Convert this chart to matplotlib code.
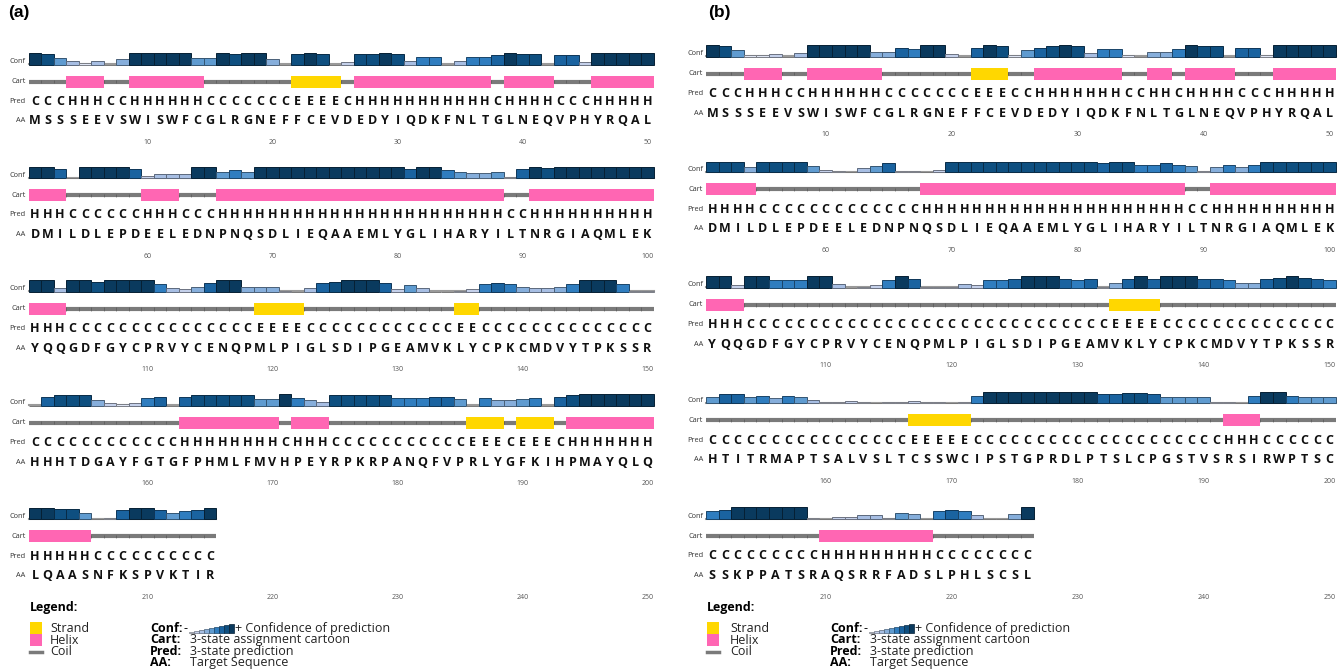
import matplotlib
matplotlib.use('Agg')
import matplotlib.pyplot as plt
from matplotlib.patches import Rectangle
import numpy as np

# ---- data: (a) ----
aa_a = ["MSSSEEVSWISWFCGLRGNEFFCEVDEDYIQDKFNLTGLNEQVPHYRQAL",
        "DMILDLEPDEELEDNPNQSDLIEQAAEMLYGLIHARYILTNRGIAQMLEK",
        "YQQGDFGYCPRVYCENQPMLPIGLSDIPGEAMVKLYCPKCMDVYTPKSSR",
        "HHHTDGAYFGTGFPHMLFMVHPEYRPKRPANQFVPRLYGFKIHPMAYQLQ",
        "LQAASNFKSPVKTIR"]
pred_a = ["CCCHHHCCHH" "HHHHCCCCCC" "CEEEECHHHH" "HHHHHHHCHH" "HHCCCHHHHH",
          "HHHCCCCCCH" "HHCCCHHHHH" "HHHHHHHHHH" "HHHHHHHHCC" "HHHHHHHHHH",
          "HHHCCCCCCC" "CCCCCCCCEE" "EECCCCCCCC" "CCCCEECCCC" "CCCCCCCCCC",
          "CCCCCCCCCC" "CCHHHHHHHH" "CHHHCCCCCC" "CCCCCEEECE" "EECHHHHHHH",
          "HHHHHCCCCCCCCCC"]
conf_a = [[9,8,5,3,1,3,0,4,9,9, 9,9,9,5,5,9,8,9,9,4, 0,8,9,8,0,2,8,8,9,8,
           3,6,6,0,3,6,6,7,9,8, 8,0,7,7,2,9,9,9,9,9],
          [9,9,7,0,9,9,9,9,7,2, 3,3,3,9,9,5,6,5,9,9, 9,9,9,9,9,9,9,9,9,9,
           7,9,9,6,5,4,4,5,1,7, 9,8,9,9,9,9,9,9,9,9],
          [9,9,3,9,9,8,9,9,9,9, 6,3,2,4,7,9,9,4,4,4, 1,0,3,7,8,9,9,9,7,2,
           5,3,0,0,1,2,6,7,6,4, 3,3,4,6,9,9,9,6,1,1],
          [0,7,8,8,8,4,2,1,2,6, 7,0,7,8,8,8,8,8,5,5, 9,6,4,3,8,8,8,8,8,6,
           6,6,7,7,5,0,6,4,4,5, 6,0,7,8,9,9,9,9,9,9],
          [9,9,8,8,5,0,1,7,9,9,7,5,6,7,9]]

# ---- data: (b) ----
aa_b = ["MSSSEEVSWISWFCGLRGNEFFCEVDEDYIQDKFNLTGLNEQVPHYRQAL",
        "DMILDLEPDEELEDNPNQSDLIEQAAEMLYGLIHARYILTNRGIAQMLEK",
        "YQQGDFGYCPRVYCENQPMLPIGLSDIPGEAMVKLYCPKCMDVYTPKSSR",
        "HTITRMAPTSALVSLTCSSWCIPSTGPRDLPTSLCPGSTVSRSIRWPTSC",
        "SSKPPATSRAQSRRFADSLPHLSCSL"]
pred_b = ["CCCHHHCCHH" "HHHHCCCCCC" "CEEECCHHHH" "HHHCCHHCHH" "HHCCCHHHHH",
          "HHHHCCCCCC" "CCCCCCCHHH" "HHHHHHHHHH" "HHHHHHHHCC" "HHHHHHHHHH",
          "HHHCCCCCCC" "CCCCCCCCCC" "CCCCCCCCCC" "CCEEEECCCC" "CCCCCCCCCC",
          "CCCCCCCCCC" "CCCCCCEEEE" "ECCCCCCCCC" "CCCCCCCCCC" "CHHHCCCCCC",
          "CCCCCCCCCHHHHHHHHHCCCCCCCC"]
conf_b = [[9,8,5,1,1,2,0,3,9,9, 9,9,9,4,4,7,6,9,9,2, 0,7,9,8,1,5,7,8,9,8,
           3,6,6,1,0,4,4,6,9,8, 8,0,7,7,1,9,9,9,9,9],
          [8,8,8,4,8,8,8,8,5,2, 1,0,3,5,7,1,1,0,2,8, 8,8,8,8,8,8,8,8,8,8,
           8,7,8,8,6,6,7,6,5,1, 4,6,4,6,8,8,8,8,8,8],
          [9,9,2,9,9,6,6,6,9,9, 3,0,1,2,6,9,7,1,1,1, 3,2,6,6,7,9,9,9,7,6,
           7,1,4,7,9,7,9,9,9,7, 7,6,4,4,7,8,9,8,7,6],
          [5,7,7,5,6,4,6,5,3,1, 1,2,1,0,1,1,2,1,1,0, 1,6,9,9,9,9,9,9,9,9,
           9,7,7,8,8,7,5,5,5,5, 1,1,0,6,9,9,6,5,5,5],
          [6,7,9,9,9,9,9,9,1,0,2,2,3,3,1,5,4,0,6,7,6,3,0,0,4,9]]

conf_colors = ['#d9d9d9', '#dfe5f4', '#c4d0ea', '#a7bee3', '#86aedb',
               '#5f9bd0', '#2f7dbf', '#1a63a0', '#0e4f80', '#0a3a5e']
helix_c = '#ff66b3'
strand_c = '#ffd700'
FONT = 'Open Sans'

fig = plt.figure(figsize=(13.4, 6.71), dpi=100)
ax = fig.add_axes([0, 0, 1, 1])
ax.set_xlim(0, 1340)
ax.set_ylim(671, 0)
ax.axis('off')


def runs(s):
    out = []
    i = 0
    while i < len(s):
        j = i
        while j < len(s) and s[j] == s[i]:
            j += 1
        out.append((i, j - i, s[i]))
        i = j
    return out


def darker(c, f=0.55):
    r, g, b = matplotlib.colors.to_rgb(c)
    return (r * f, g * f, b * f)


def draw_panel(aa_rows, pred_rows, conf_rows, x0, w, base0, pitch):
    hu = 1.3  # px per confidence unit
    for r in range(len(aa_rows)):
        aa = aa_rows[r]
        pr = pred_rows[r]
        cf = np.array(conf_rows[r])
        assert len(aa) == len(pr) == len(cf), (r, len(aa), len(pr), len(cf))
        n = len(aa)
        base = base0 + r * pitch
        xs = x0 + w * (np.arange(n) + 0.5)
        x1 = x0 + n * w

        # confidence bars
        ax.plot([x0, x1], [base - 0.6, base - 0.6], color='#9a9a9a', lw=1.5, zorder=1)
        cols = [conf_colors[v] for v in cf]
        ax.bar(xs, -cf * hu, width=w, bottom=base, color=cols,
               edgecolor=[darker(c) for c in cols], linewidth=0.7, zorder=2)

        # cartoon
        yc = base + 17
        ax.plot([x0, x1], [yc, yc], color='#7a7a7a', lw=3, solid_capstyle='butt', zorder=1)
        ax.vlines(x0 + w * np.arange(1, n), yc - 1.6, yc + 1.6, color='#505050', lw=0.4, zorder=1)
        for st, ln, ch in runs(pr):
            if ch == 'H':
                ax.add_patch(Rectangle((x0 + st * w, yc - 6), ln * w, 12, fc=helix_c, ec='none', zorder=3))
            elif ch == 'E':
                ax.add_patch(Rectangle((x0 + st * w, yc - 6), ln * w, 12, fc=strand_c, ec='none', zorder=3))

        # letters
        for i in range(n):
            ax.text(xs[i], base + 36.8, pr[i], ha='center', va='center', fontsize=9,
                    fontweight='bold', family=FONT, color='#111111')
            ax.text(xs[i], base + 56.5, aa[i], ha='center', va='center', fontsize=9,
                    fontweight='bold', family=FONT, color='#111111')

        # position numbers
        for k in range(10, 51, 10):
            ax.text(x0 + w * (k - 0.5), base + 78, str(r * 50 + k), ha='center', va='center',
                    fontsize=5, family=FONT, color='#555555')

        # row labels
        for lab, dy in [('Conf', -3), ('Cart', 17), ('Pred', 36.8), ('AA', 56.5)]:
            ax.text(x0 - 3, base + dy, lab, ha='right', va='center', fontsize=5.3,
                    family=FONT, color='#333333')


def draw_legend(lx, ly, sx, cx, dx):
    ax.text(lx, ly, 'Legend:', ha='left', va='center', fontsize=9, fontweight='bold', family=FONT)
    ax.add_patch(Rectangle((lx, ly + 15), 12, 12, fc=strand_c, ec='none'))
    ax.add_patch(Rectangle((lx, ly + 27), 12, 12, fc=helix_c, ec='none'))
    ax.plot([lx, lx + 12], [ly + 45, ly + 45], color='#7a7a7a', lw=2.5)
    for txt, dy in [('Strand', 21.5), ('Helix', 33), ('Coil', 44.5)]:
        ax.text(sx, ly + dy, txt, ha='left', va='center', fontsize=9, family=FONT, color='#222222')
    keys = [('Conf:', 'Confidence of prediction'), ('Cart:', '3-state assignment cartoon'),
            ('Pred:', '3-state prediction'), ('AA:', 'Target Sequence')]
    for i, (k, t) in enumerate(keys):
        y = ly + 21.5 + i * 11.3
        ax.text(cx, y, k, ha='left', va='center', fontsize=9, fontweight='bold', family=FONT)
        if i == 0:
            ax.text(cx + 33, y, '-', ha='left', va='center', fontsize=9, family=FONT)
            lv = np.arange(1, 10)
            ax.bar(cx + 39 + 5 * (lv - 0.5), -lv * 1.0, width=5, bottom=y + 4,
                   color=[conf_colors[v] for v in lv],
                   edgecolor=[darker(conf_colors[v]) for v in lv], linewidth=0.5)
            ax.text(cx + 85, y, '+ ' + t, ha='left', va='center', fontsize=9, family=FONT, color='#222222')
        else:
            ax.text(cx + dx, y, t, ha='left', va='center', fontsize=9, family=FONT, color='#222222')


draw_panel(aa_a, pred_a, conf_a, 28.75, 12.5, 64.5, 113.7)
draw_panel(aa_b, pred_b, conf_b, 706, 12.6, 56.7, 115.6)
draw_legend(30, 607, 50, 150, 40)
draw_legend(707, 607, 730, 830, 40)

ax.text(8, 12, '(a)', ha='left', va='center', fontsize=12.5, fontweight='bold', family='Liberation Sans')
ax.text(708, 12, '(b)', ha='left', va='center', fontsize=12.5, fontweight='bold', family='Liberation Sans')

fig.savefig('out.png', dpi=100)
